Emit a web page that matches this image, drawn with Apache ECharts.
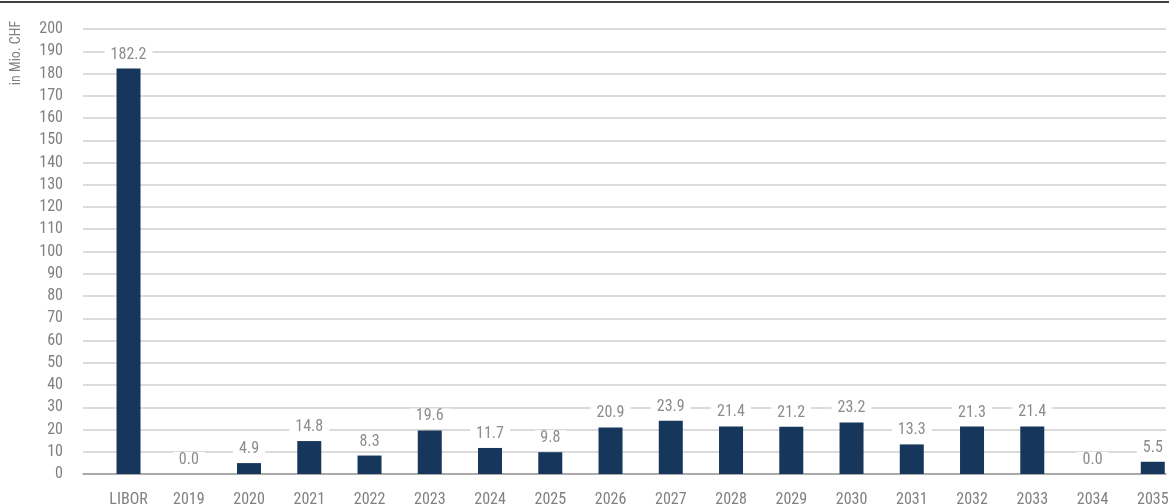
<!DOCTYPE html>
<html>
<head>
<meta charset="utf-8">
<script src="https://cdn.jsdelivr.net/npm/echarts@6/dist/echarts.min.js"></script>
<style>
  html, body { margin: 0; padding: 0; background: #fff; }
  #chart { width: 1169px; height: 504px; }
</style>
</head>
<body>
<div id="chart"></div>
<script>
// Maturity profile, in Mio. CHF
const categories = ['LIBOR', '2019', '2020', '2021', '2022', '2023', '2024', '2025', '2026',
  '2027', '2028', '2029', '2030', '2031', '2032', '2033', '2034', '2035'];
const values = [182.2, 0.0, 4.9, 14.8, 8.3, 19.6, 11.7, 9.8, 20.9,
  23.9, 21.4, 21.2, 23.2, 13.3, 21.3, 21.4, 0.0, 5.5];
const yTicks = { min: 0, max: 200, interval: 10 };
const unitLabel = 'in Mio. CHF';

const FONT = '"Liberation Sans Narrow", "Roboto Condensed", "DejaVu Sans Condensed", sans-serif';
const GREY_TEXT = '#808080';
const NAVY = '#17365c';

const chart = echarts.init(document.getElementById('chart'), null, { renderer: 'canvas' });

const yBase = {
  type: 'value',
  min: yTicks.min,
  max: yTicks.max,
  interval: yTicks.interval
};

chart.setOption({
  animation: false,
  backgroundColor: '#fff',
  grid: [
    // grid 0: gridlines, value labels on the left, baseline
    { left: 83, right: 3, top: 29, bottom: 30, outerBoundsMode: 'none', containLabel: false },
    // grid 1: bars, wider category bands (last band runs past the right edge)
    { left: 98.4, width: 1084.5, top: 29, bottom: 30, outerBoundsMode: 'none', containLabel: false }
  ],
  xAxis: [
    {
      gridIndex: 0, type: 'value', min: 0, max: 1,
      axisLabel: { show: false }, axisTick: { show: false }, splitLine: { show: false },
      axisLine: { show: true, onZero: false, lineStyle: { color: '#9a9a9a', width: 1.5 } }
    },
    {
      gridIndex: 1, type: 'category', data: categories,
      axisLine: { show: false }, axisTick: { show: false },
      axisLabel: {
        interval: 0, margin: 18, color: GREY_TEXT, fontFamily: FONT, fontSize: 16,
        hideOverlap: false
      }
    }
  ],
  yAxis: [
    Object.assign({}, yBase, {
      gridIndex: 0,
      axisLine: { show: false }, axisTick: { show: false },
      axisLabel: { margin: 20, color: GREY_TEXT, fontFamily: FONT, fontSize: 16 },
      splitLine: { show: true, lineStyle: { color: '#cfcfcf', width: 1.5 } }
    }),
    Object.assign({}, yBase, {
      gridIndex: 1,
      axisLine: { show: false }, axisTick: { show: false },
      axisLabel: { show: false }, splitLine: { show: false }
    })
  ],
  series: [
    {
      type: 'bar',
      xAxisIndex: 1,
      yAxisIndex: 1,
      data: values,
      barWidth: 24,
      itemStyle: { color: NAVY },
      label: {
        show: true,
        position: 'top',
        distance: 6,
        color: '#8c8c8c',
        fontFamily: FONT,
        fontSize: 16,
        backgroundColor: '#fff',
        padding: [0, 6, 0, 6],
        formatter: p => p.value.toFixed(1)
      }
    }
  ],
  graphic: [
    {
      type: 'line',
      shape: { x1: 0, y1: 2, x2: 1169, y2: 2 },
      style: { stroke: '#3f3f3f', lineWidth: 2 }
    },
    {
      type: 'text',
      x: 16, y: 53,
      rotation: Math.PI / 2,
      style: {
        text: unitLabel,
        fill: GREY_TEXT,
        font: '14px ' + FONT,
        align: 'center',
        verticalAlign: 'middle'
      }
    }
  ]
});
</script>
</body>
</html>
